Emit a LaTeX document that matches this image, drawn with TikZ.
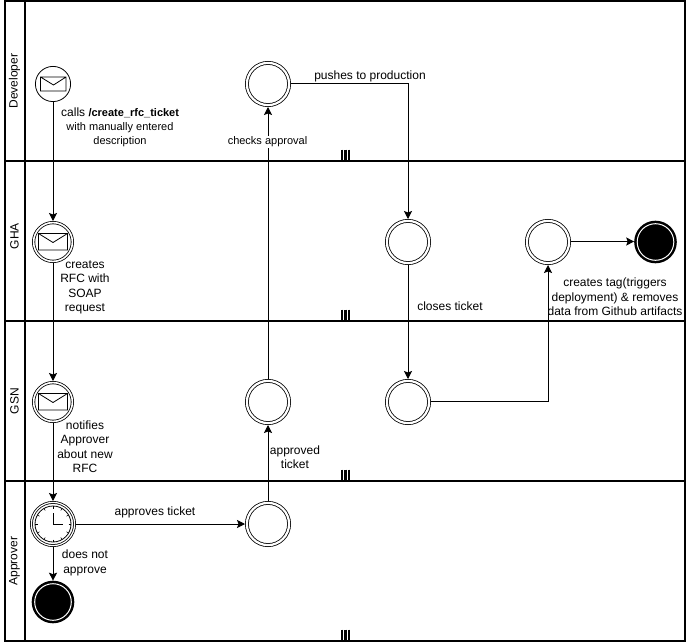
\documentclass[tikz,border=0pt]{standalone}
\usepackage{fontspec}
\setmainfont{Liberation Sans}
\usetikzlibrary{arrows.meta,calc}
\tikzset{
  x=1pt,y=-1pt,
  lane/.style={draw=black,line width=2,fill=none},
  flow/.style={draw=black,line width=1,-{Stealth[length=8,width=8,inset=1.5]}},
  dbl/.style={circle,draw=black,fill=white,line width=0.8,double=white,double distance=2.2,inner sep=0,outer sep=1.9,minimum size=42.2},
  dblsm/.style={dbl,minimum size=38.8,double distance=1.6,outer sep=1.6},
  dbltm/.style={dbl,minimum size=43.2,double distance=1.2,outer sep=1.4},
  startev/.style={circle,draw=black,fill=white,line width=0.8,inner sep=0,outer sep=0.4,minimum size=35.2},
  endev/.style={circle,draw=black,fill=black,line width=2.5,double=white,double distance=1,inner sep=0,outer sep=3,minimum size=36.6},
  lbl/.style={font=\fontsize{12}{14.5}\selectfont,align=center,inner sep=0,text=black},
  lblsm/.style={font=\fontsize{11}{14.5}\selectfont,align=center,inner sep=0,text=black},
  lanetxt/.style={font=\fontsize{12}{14}\selectfont,rotate=90,inner sep=0},
  env/.style={draw=black,line width=0.8},
}
\begin{document}
\begin{tikzpicture}
\useasboundingbox (0,0) rectangle (686,642);
\fill[white] (0,0) rectangle (686,642);
% lanes
\draw[lane] (5,1) rectangle (685,161);
\draw[lane] (5,161) rectangle (685,321);
\draw[lane] (5,321) rectangle (685,481);
\draw[lane] (5,481) rectangle (685,641);
\draw[lane] (25,1) -- (25,641);
\node[lanetxt] (ldev) at (14.5,81) {Developer};
\node[lanetxt] (lgha) at (14.5,236) {GHA};
\node[lanetxt] (lgsn) at (14.5,401) {GSN};
\node[lanetxt] (lapp) at (14.5,561) {Approver};
\foreach \yy in {161,321,481,641}{
  \foreach \xx in {342,345.5,349}{
    \draw[line width=2.2] (\xx,\yy-11.5) -- (\xx,\yy);
  }
}
% nodes
\node[startev] (a) at (53,84) {};
\node[dblsm] (b) at (53,242) {};
\node[dblsm] (c) at (53,402) {};
\node[dbltm] (d) at (53,524) {};
\node[endev] (e) at (53,602) {};
\node[dbl] (f) at (268,84) {};
\node[dbl] (g) at (268,402) {};
\node[dbl] (h) at (268,524) {};
\node[dbl] (i) at (408,242) {};
\node[dbl] (j) at (408,402) {};
\node[dbl] (k) at (548,242) {};
\node[endev] (l) at (655.5,242) {};
% connectors
\draw[flow] (a) -- (b);
\draw[flow] (b) -- (c);
\draw[flow] (c) -- (d);
\draw[flow] (d) -- (e);
\draw[flow] (d) -- (h);
\draw[flow] (h) -- (g);
\draw[flow] (g) -- (f);
\draw[flow] (f.east |- 0,83.5) -| (i.north);
\draw[flow] (i) -- (j);
\draw[flow] (j.east |- 0,401.5) -| (k.south);
\draw[flow] (k.east |- 0,241.5) -- (l.west |- 0,241.5);
% envelopes
\draw[env] (40.5,77) rectangle (66,91) (40.5,77) -- (53.5,85) -- (66,77);
\draw[env] (38.5,233.5) rectangle (67.5,250) (38.5,233.5) -- (53,242.5) -- (67.5,233.5);
\draw[env] (38.5,393.5) rectangle (67.5,410) (38.5,393.5) -- (53,402.5) -- (67.5,393.5);
% timer
\draw[line width=0.8,fill=white] (d.center) circle (18);
\foreach \ang in {0,30,...,330}{
  \draw[line width=0.5] ($(d.center)+(\ang:15.5)$) -- ($(d.center)+(\ang:18)$);
}
\draw[line width=0.8] (53,513) -- (53,524) -- (63,524);
% labels
\node[lbl,font=\fontsize{12}{14}\selectfont,anchor=west] (t1) at (61,113) {calls {\fontsize{11}{14}\selectfont\textbf{/create\_rfc\_ticket}}};
\node[lblsm] (t2) at (120,134.5) {with manually entered\\description};
\node[lblsm,fill=white,inner sep=1] (t3) at (267.5,142) {checks approval};
\node[lbl] (t4) at (370,76.5) {pushes to production};
\node[lbl] (t5) at (85,287.5) {creates\\RFC with\\SOAP\\request};
\node[lbl] (t6) at (85,446.5) {notifies\\Approver\\about new\\RFC};
\node[lbl] (t7) at (85,563) {does not\\approve};
\node[lbl] (t8) at (155,512) {approves ticket};
\node[lbl] (t9) at (295,457) {approved\\ticket};
\node[lbl] (t10) at (450,306) {closes ticket};
\node[lbl] (t11) at (615,297) {creates tag(triggers\\deployment) \& removes\\data from Github artifacts};
\end{tikzpicture}
\end{document}
